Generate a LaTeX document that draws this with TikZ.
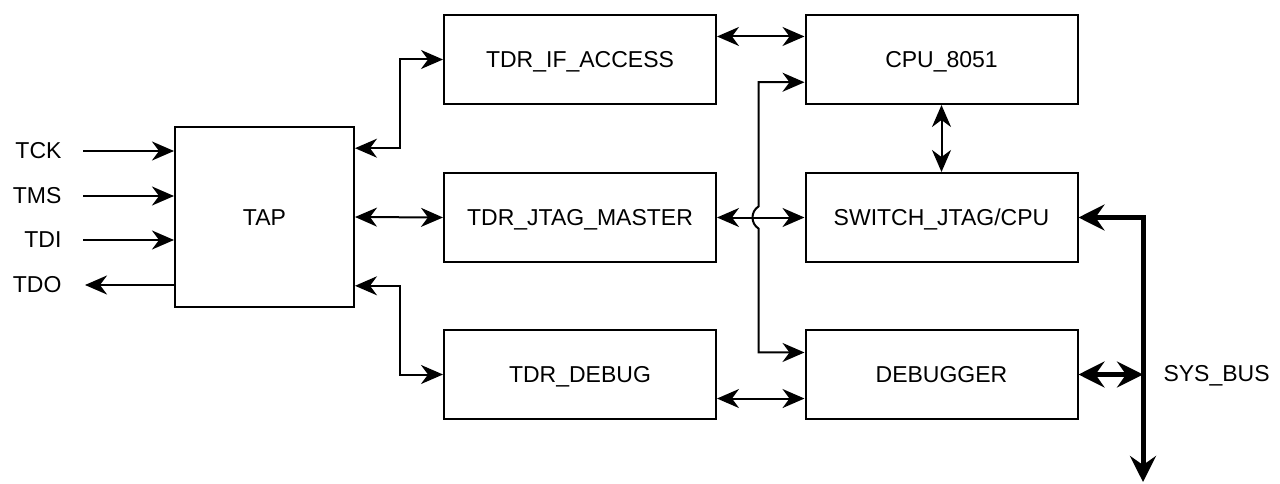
\documentclass[tikz,border=0pt]{standalone}
\usepackage{fontspec}
\setmainfont{Liberation Sans}
\usetikzlibrary{arrows.meta,calc}

\tikzset{
  blk/.style={draw, line width=2pt, minimum width=272pt, minimum height=89pt, inner sep=0pt, text height=19pt, text depth=3pt},
  arr/.style={line width=2pt, -{Stealth[length=22pt,width=19pt,inset=7pt]}},
  darr/.style={line width=2pt, {Stealth[length=22pt,width=19pt,inset=7pt]}-{Stealth[length=22pt,width=19pt,inset=7pt]}},
  bus/.style={line width=5pt, {Stealth[length=26pt,width=26pt,inset=9pt]}-{Stealth[length=26pt,width=26pt,inset=9pt]}}
}

\begin{document}
\begin{tikzpicture}[x=1pt,y=-1pt,font=\fontsize{23}{27}\selectfont]
			\useasboundingbox (0,0) rectangle (1280,484);
			% blocks
			\node[blk, minimum width=179pt, minimum height=180pt] (tap) at (264.5,217) {TAP};
			\node[blk] (ifacc) at (580,59.5) {TDR\_IF\_ACCESS};
			\node[blk] (jtag) at (580,217.5) {TDR\_JTAG\_MASTER};
			\node[blk] (tdrdbg) at (580,374.5) {TDR\_DEBUG};
			\node[blk] (cpu) at (941.5,59.5) {CPU\_8051};
			\node[blk] (sw) at (941.5,217.5) {SWITCH\_JTAG/CPU};
			\node[blk] (dbgr) at (941.5,374.5) {DEBUGGER};
			% jtag pins
			\node[anchor=east] (tck) at (65,151) {TCK};
			\node[anchor=east] (tms) at (65,196) {TMS};
			\node[anchor=east] (tdi) at (65,240) {TDI};
			\node[anchor=east] (tdo) at (65,285) {TDO};
			\draw[arr] ([xshift=18pt]tck.east) -- (tck -| tap.west);
			\draw[arr] ([xshift=18pt]tms.east) -- (tms -| tap.west);
			\draw[arr] ([xshift=18pt]tdi.east) -- (tdi -| tap.west);
			\draw[arr] (tdo -| tap.west) -- ([xshift=20pt]tdo.east);
			% tap to tdrs
			\draw[darr] ($(tap.north east)!0.122!(tap.south east)$) -- ++(45,0) |- (ifacc.west);
			\draw[darr] (tap.east) -- (jtag.west);
			\draw[darr] ($(tap.north east)!0.878!(tap.south east)$) -- ++(45,0) |- (tdrdbg.west);
			% tdrs to cpu side
			\draw[darr] ($(ifacc.north east)!0.247!(ifacc.south east)$) -- ($(cpu.north west)!0.247!(cpu.south west)$);
			\draw[darr] (jtag.east) -- (sw.west);
			\draw[darr] ($(tdrdbg.north east)!0.764!(tdrdbg.south east)$) -- ($(dbgr.north west)!0.764!(dbgr.south west)$);
			\draw[darr] ($(cpu.north west)!0.75!(cpu.south west)$) -- ++(-46,0) coordinate (v1)
				-- ([yshift=11pt]v1 |- sw.west) .. controls +(-8,5) and +(-8,-5) .. ([yshift=-11pt]v1 |- sw.west)
				|- ($(dbgr.north west)!0.258!(dbgr.south west)$);
			\draw[darr] (cpu.south) -- (sw.north);
			% system bus
			\coordinate (busend) at (1143,482);
			\draw[bus] (sw.east) -| (busend);
			\draw[bus] (dbgr.east) -- (dbgr.east -| busend);
			\node[anchor=west] (sysbus) at (1160,376) {SYS\_BUS};
		\end{tikzpicture}
\end{document}
